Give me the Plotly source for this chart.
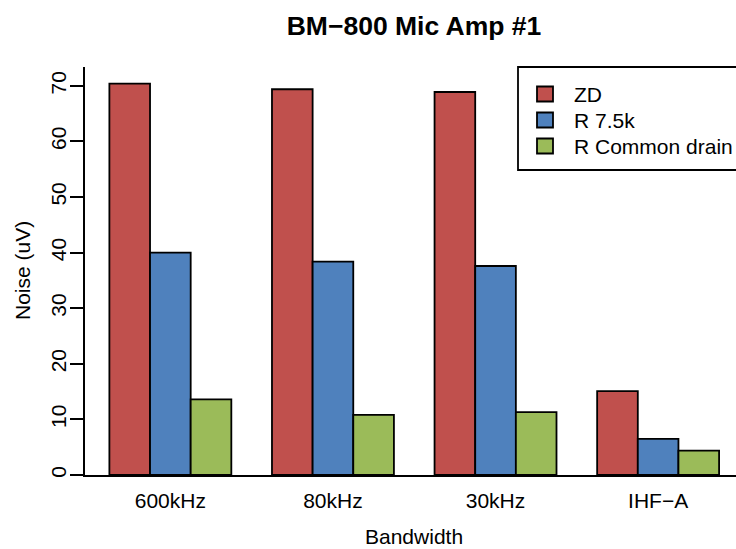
import plotly.graph_objects as go

categories = ["600kHz", "80kHz", "30kHz", "IHF\u2212A"]
series_names = ["ZD", "R 7.5k", "R Common drain"]
zd = [70.4, 69.4, 68.9, 15.1]
r75k = [40.0, 38.4, 37.6, 6.5]
r_common = [13.6, 10.8, 11.3, 4.4]
colors = ["#C0504D", "#4F81BD", "#9BBB59"]
y_ticks = [0, 10, 20, 30, 40, 50, 60, 70]

FONT = "Liberation Sans, Arial, Helvetica, sans-serif"
FS = 21
W, H = 736, 549
L, R, T, B = 85, 0, 67, 74
pw, ph = W - L - R, H - T - B

def px_x(px):
    return (px - L) / pw

def px_y(py):
    return (H - B - py) / ph

fig = go.Figure()
for name, vals, col in zip(series_names, [zd, r75k, r_common], colors):
    fig.add_trace(go.Bar(
        x=categories, y=vals, name=name,
        marker=dict(color=col, line=dict(color="black", width=1.8)),
        showlegend=False,
    ))

fig.update_layout(
    width=W, height=H,
    margin=dict(l=L, r=R, t=T, b=B, pad=0),
    paper_bgcolor="white", plot_bgcolor="white",
    barmode="group", bargap=0.25, bargroupgap=0,
    font=dict(family=FONT, size=FS, color="black"),
    xaxis=dict(
        type="category", range=[-0.525, 3.479],
        showline=True, linecolor="black", linewidth=1.8,
        ticks="", showgrid=False, zeroline=False,
        tickfont=dict(size=FS), ticklabelstandoff=6,
    ),
    yaxis=dict(
        range=[0, 73.4], tickvals=y_ticks,
        showline=True, linecolor="black", linewidth=1.8,
        ticks="outside", ticklen=13, tickwidth=1.8, tickcolor="black",
        tickangle=-90, showgrid=False, zeroline=False,
        tickfont=dict(size=FS), ticklabelstandoff=-4,
    ),
    title=dict(
        text="<b>BM\u2212800 Mic Amp #1</b>",
        x=px_x(414), xref="paper", xanchor="center",
        y=1 - 26 / H, yref="container", yanchor="middle",
        font=dict(size=26.5, family=FONT),
    ),
)

annotations = [
    dict(text="Bandwidth", x=px_x(414), y=px_y(536.5), xref="paper", yref="paper",
         showarrow=False, xanchor="center", yanchor="middle", font=dict(size=FS)),
    dict(text="Noise (uV)", x=px_x(22), y=px_y(271), xref="paper", yref="paper",
         showarrow=False, xanchor="center", yanchor="middle", textangle=-90,
         font=dict(size=FS)),
]

shapes = [
    dict(type="rect", xref="paper", yref="paper",
         x0=px_x(518), x1=px_x(744), y0=px_y(67), y1=px_y(170),
         line=dict(color="black", width=1.8), fillcolor="white", layer="above"),
]
row_centers = [94, 120, 146]
for name, col, cy in zip(series_names, colors, row_centers):
    shapes.append(dict(type="rect", xref="paper", yref="paper",
                       x0=px_x(537), x1=px_x(553), y0=px_y(cy - 7.5), y1=px_y(cy + 7.5),
                       line=dict(color="black", width=1.8), fillcolor=col, layer="above"))
    annotations.append(dict(text=name, x=px_x(572), y=px_y(cy), xref="paper", yref="paper",
                            showarrow=False, xanchor="left", yanchor="middle",
                            font=dict(size=FS)))

fig.update_layout(shapes=shapes, annotations=annotations)
fig.write_html(
    "out.html",
    config={"displayModeBar": False},
    post_script="document.body.style.margin='0';document.body.style.padding='0';",
)
